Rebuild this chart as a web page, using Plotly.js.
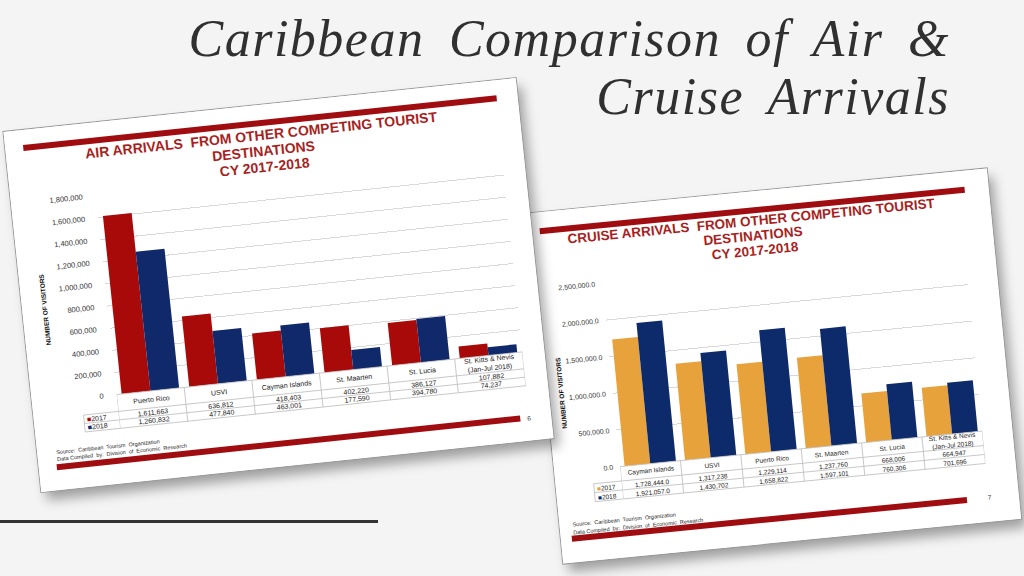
<!DOCTYPE html>
<html><head><meta charset="utf-8">
<script src="https://cdn.plot.ly/plotly-3.0.1.min.js"></script>
<style>
html,body{margin:0;padding:0;width:1024px;height:576px;overflow:hidden;background:#f4f4f4;}
#title{position:absolute;right:74px;top:10px;text-align:right;font-family:'Liberation Serif','DejaVu Serif',serif;font-style:italic;font-size:52px;line-height:58px;letter-spacing:1.5px;word-spacing:10px;color:#303030;white-space:nowrap;}
#title div{height:58px;}
#rule{position:absolute;left:0;top:520px;width:378px;height:3px;background:#333;}
.card{position:absolute;background:#fff;outline:1px solid #9a9a9a;box-shadow:5px 9px 12px rgba(0,0,0,0.35);transform-origin:50% 50%;}
#air{left:21px;top:104px;width:515px;height:362px;transform:rotate(-6deg);z-index:2;}
#cruise{left:545px;top:190px;width:460px;height:352px;transform:rotate(-5.6deg);z-index:1;}
</style></head>
<body>
<div id="title"><div>Caribbean Comparison of Air &amp;</div><div>Cruise Arrivals</div></div>
<div id="rule"></div>
<div id="cruise" class="card"></div>
<div id="air" class="card"></div>
<script>
// ---------- data ----------
const seriesNames = ['2017', '2018'];
const airCategories = ['Puerto Rico', 'USVI', 'Cayman Islands', 'St. Maarten', 'St. Lucia', 'St. Kitts & Nevis<br>(Jan-Jul 2018)'];
const air2017 = [1611663, 636812, 418403, 402220, 386127, 107882];
const air2018 = [1260832, 477840, 463001, 177590, 394780, 74237];
const airDecimals = [0, 0, 0, 0, 0, 0];
const cruiseCategories = ['Cayman Islands', 'USVI', 'Puerto Rico', 'St. Maarten', 'St. Lucia', 'St. Kitts & Nevis<br>(Jan-Jul 2018)'];
const cruise2017 = [1728444, 1317238, 1229114, 1237760, 668006, 664947];
const cruise2018 = [1921057, 1430702, 1658822, 1597101, 760306, 701696];
const cruiseDecimals = [1, 0, 0, 0, 0, 0];
const airTitle = ['AIR ARRIVALS  FROM OTHER COMPETING TOURIST', 'DESTINATIONS', 'CY 2017-2018'];
const cruiseTitle = ['CRUISE ARRIVALS  FROM OTHER COMPETING TOURIST', 'DESTINATIONS', 'CY 2017-2018'];
const yAxisTitle = 'NUMBER OF VISITORS';
const sourceLines = ['Source:  Caribbean  Tourism  Organization', 'Data Compiled  by:  Division  of  Economic  Research'];

// ---------- styles ----------
const BAR_RED = '#a00d10';
const TITLE_RED = '#a81f22';
const FONT = 'Liberation Sans, Arial, sans-serif';

function fmt(v, dec) {
  const s = v.toFixed(dec);
  const parts = s.split('.');
  return parts[0].replace(/\B(?=(\d{3})+(?!\d))/g, ',') + (parts[1] ? '.' + parts[1] : '');
}

function buildCard(id, o) {
  const pw = o.W - o.l - o.r, ph = o.H - o.t - o.b, base = o.H - o.b;
  const X = px => (px - o.l) / pw;
  const Y = py => (base - py) / ph;
  const n = o.cats.length;
  const xs = o.cats.map(c => c.replace('<br>', ' '));
  const data = o.series.map(s => ({
    type: 'bar', x: xs, y: s.values, name: s.name,
    marker: {color: s.color, line: {width: 0}}, hoverinfo: 'skip'
  }));
  const shapes = [], ann = [];
  const f = (size, color) => ({family: FONT, size: size, color: color});
  const rect = (b, color) => ({type: 'rect', xref: 'paper', yref: 'paper',
    x0: X(b[0]), x1: X(b[1]), y0: Y(b[3]), y1: Y(b[2]), fillcolor: color, line: {width: 0}});
  shapes.push(rect(o.topBar, BAR_RED), rect(o.bottomBar, BAR_RED));
  const gc = '#bdbdbd', gw = 0.8;
  const hl = (x0, x1, xr, py) => ({type: 'line', xref: xr, yref: 'paper', x0: x0, x1: x1, y0: Y(py), y1: Y(py), line: {color: gc, width: gw}});
  const vl = (x, xr, p0, p1) => ({type: 'line', xref: xr, yref: 'paper', x0: x, x1: x, y0: Y(p0), y1: Y(p1), line: {color: gc, width: gw}});
  const r = o.rows;
  r.forEach(py => shapes.push(hl(-0.5, n - 0.5, 'x', py)));
  for (let i = 0; i <= n; i++) shapes.push(vl(i - 0.5, 'x', r[0], r[3]));
  [r[1], r[2], r[3]].forEach(py => shapes.push(hl(X(o.legL), 0, 'paper', py)));
  shapes.push(vl(X(o.legL), 'paper', r[1], r[3]));

  o.titleLines.forEach((t, k) => ann.push({xref: 'paper', yref: 'paper', x: X(o.titleX), y: Y(o.titleY[k]),
    text: '<b>' + t + '</b>', showarrow: false, xanchor: 'center', yanchor: 'middle', font: f(o.titleSize, TITLE_RED)}));

  o.cats.forEach((c, i) => {
    ann.push({xref: 'x', yref: 'paper', x: i, y: Y((r[0] + r[1]) / 2), text: c, showarrow: false,
      xanchor: 'center', yanchor: 'middle', font: f(o.cellSize, '#222')});
    o.series.forEach((s, k) => ann.push({xref: 'x', yref: 'paper', x: i, y: Y((r[k + 1] + r[k + 2]) / 2),
      text: fmt(s.values[i], o.dec[i]), showarrow: false, xanchor: 'center', yanchor: 'middle', font: f(o.cellSize, '#222')}));
  });
  o.series.forEach((s, k) => ann.push({xref: 'paper', yref: 'paper', x: X(o.legL + 1), y: Y((r[k + 1] + r[k + 2]) / 2),
    text: '<span style="color:' + s.color + '">■</span>' + s.name, showarrow: false, xanchor: 'left', yanchor: 'middle',
    font: f(o.cellSize, '#222')}));

  ann.push({xref: 'paper', yref: 'paper', x: X(o.yTitle[0]), y: Y(o.yTitle[1]), text: '<b>' + yAxisTitle + '</b>',
    textangle: -90, showarrow: false, xanchor: 'center', yanchor: 'middle', font: f(6.5, '#111')});
  sourceLines.forEach((t, k) => ann.push({xref: 'paper', yref: 'paper', x: X(o.source[0]), y: Y(o.source[1 + k]),
    text: t, showarrow: false, xanchor: 'left', yanchor: 'middle', font: f(5.5, '#222')}));
  ann.push({xref: 'paper', yref: 'paper', x: X(o.page[1]), y: Y(o.page[2]), text: o.page[0], showarrow: false,
    xanchor: 'center', yanchor: 'middle', font: f(6.5, '#333')});

  const layout = {
    width: o.W, height: o.H, margin: {l: o.l, r: o.r, t: o.t, b: o.b, pad: 0},
    paper_bgcolor: '#ffffff', plot_bgcolor: '#ffffff', showlegend: false,
    barmode: 'group', bargap: o.bargap, bargroupgap: 0,
    font: {family: FONT},
    xaxis: {type: 'category', range: [-0.5, n - 0.5], showticklabels: false, showgrid: false,
      zeroline: false, showline: false, ticks: ''},
    yaxis: {range: o.yRange, dtick: o.dtick, tickformat: o.tickformat, showgrid: true, gridcolor: '#d9d9d9',
      gridwidth: 1, zeroline: false, showline: false, ticks: '', tickfont: f(o.tickSize, '#333'),
      ticklabelstandoff: o.standoff},
    shapes: shapes, annotations: ann
  };
  Plotly.newPlot(id, data, layout, {staticPlot: true, displayModeBar: false});
}

buildCard('air', {
  W: 515, H: 362, l: 85, r: 22, t: 73, b: 89,
  cats: airCategories, dec: airDecimals,
  series: [{name: seriesNames[0], values: air2017, color: '#a80a0a'}, {name: seriesNames[1], values: air2018, color: '#10296b'}],
  yRange: [0, 1800000], dtick: 200000, tickformat: ',d', tickSize: 7.5, standoff: 12, bargap: 0.15,
  topBar: [18, 494, 15, 21], bottomBar: [18, 484, 336, 342],
  titleLines: airTitle, titleX: 256, titleY: [30, 46.4, 62.2], titleSize: 14,
  rows: [273, 290, 298.5, 307], legL: 50, cellSize: 7,
  yTitle: [22, 181], source: [17, 324, 330.5], page: ['6', 493, 339]
});

buildCard('cruise', {
  W: 460, H: 352, l: 66, r: 30, t: 77, b: 91,
  cats: cruiseCategories, dec: cruiseDecimals,
  series: [{name: seriesNames[0], values: cruise2017, color: '#e8a23c'}, {name: seriesNames[1], values: cruise2018, color: '#0d2a6b'}],
  yRange: [0, 2500000], dtick: 500000, tickformat: ',.1f', tickSize: 7, standoff: 6, bargap: 0.15,
  topBar: [9, 436, 16, 22], bottomBar: [11, 408, 325, 331],
  titleLines: cruiseTitle, titleX: 221, titleY: [29.5, 44.5, 59.5], titleSize: 13.5,
  rows: [261, 275.5, 284.5, 293.5], legL: 38, cellSize: 6.5,
  yTitle: [14, 182], source: [11, 314, 321.6], page: ['7', 431, 327]
});
</script>
</body></html>
